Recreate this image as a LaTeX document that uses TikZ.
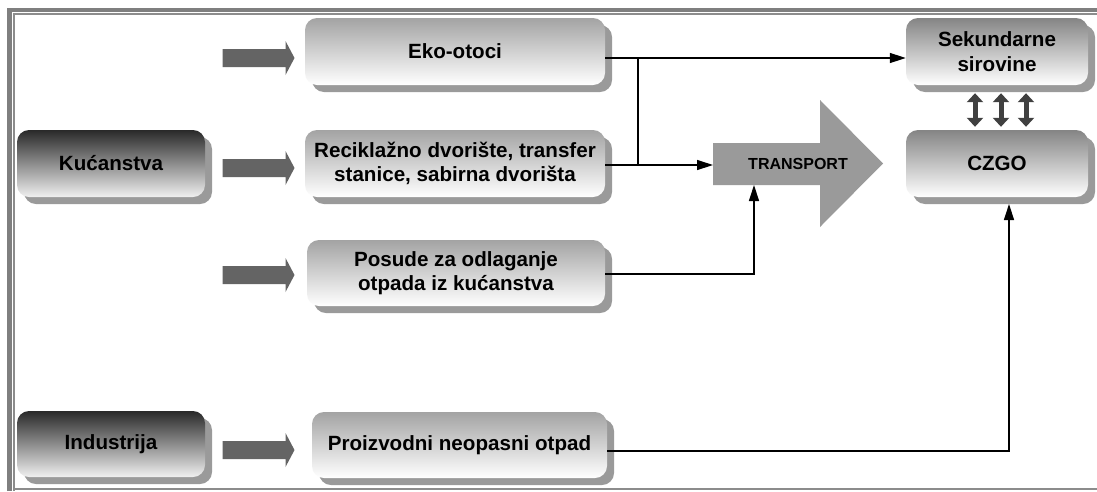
\documentclass[tikz,border=0pt]{standalone}
\usepackage{fontspec}
\setmainfont{Liberation Sans}
\usetikzlibrary{arrows.meta,shadows}
\definecolor{framegray}{HTML}{7F7F7F}
\definecolor{innergray}{HTML}{8C8C8C}
\definecolor{blockgray}{HTML}{646464}
\definecolor{transgray}{HTML}{9A9A9A}
\definecolor{dblgray}{HTML}{404040}
\definecolor{shadowgray}{HTML}{9A9A9A}
\tikzset{
  boxbase/.style={rectangle, rounded corners=12pt, align=center, inner sep=2pt,
    font=\fontsize{20.6}{24.5}\selectfont\bfseries, text=black,
    drop shadow={shadow xshift=7pt, shadow yshift=-7pt, fill=shadowgray, opacity=1}},
  lightbox/.style={boxbase, top color=black!36, bottom color=white},
  midbox/.style={boxbase, top color=black!48, bottom color=white},
  darkbox/.style={boxbase, top color=black!84, bottom color=black!6},
  conn/.style={line width=1.3pt, -{Triangle[length=16pt,width=10pt]}},
  plainline/.style={line width=1.3pt},
  dblarr/.style={line width=5pt, dblgray, {Triangle[length=9pt,width=16pt]}-{Triangle[length=9pt,width=16pt]}},
  garrow/.pic={\fill[blockgray] (-36,-9) -- (27,-9) -- (27,-17) -- (36,0) -- (27,17) -- (27,9) -- (-36,9) -- cycle;},
  trtext/.style={font=\fontsize{16}{19}\selectfont\bfseries, inner sep=0pt}
}
\begin{document}
\begin{tikzpicture}[x=1pt,y=-1pt]
\useasboundingbox (0,0) rectangle (1097,491);
\fill[white] (0,0) rectangle (1097,491);
% frame
\draw[line width=4.5pt, framegray] (9.5,491) -- (9.5,10) -- (1097,10);
\draw[line width=2pt, innergray] (14,491) -- (14,13.8) -- (1097,13.8);
\draw[line width=2pt, innergray] (14,489.3) -- (1097,489.3);
% block arrows
\pic at (258.5,58) {garrow};
\pic at (258.5,168) {garrow};
\pic at (258.5,275) {garrow};
\pic at (258.5,450) {garrow};
% transport arrow
\fill[transgray] (713,143) -- (820,143) -- (820,100) -- (883,163.5) -- (820,227) -- (820,185) -- (713,185) -- cycle;
\node[trtext] (tr) at (798,164) {TRANSPORT};
\coordinate (trin) at (713,165);
\coordinate (trbot) at (754,185);
% boxes
\node[darkbox, minimum width=188pt, minimum height=67pt] (kuc) at (111,163.5) {Kućanstva};
\node[darkbox, minimum width=188pt, minimum height=66pt] (ind) at (111,444) {Industrija};
\node[lightbox, minimum width=300pt, minimum height=67pt] (eko) at (455,51.5) {Eko-otoci};
\node[lightbox, minimum width=300pt, minimum height=67pt] (rec) at (455,163.5) {Reciklažno dvorište, transfer\\stanice, sabirna dvorišta};
\node[lightbox, minimum width=298pt, minimum height=66pt] (pos) at (456,273) {Posude za odlaganje\\otpada iz kućanstva};
\node[lightbox, minimum width=295pt, minimum height=66pt] (pro) at (459.5,445) {Proizvodni neopasni otpad};
\node[midbox, minimum width=182pt, minimum height=67pt] (sek) at (997,51.5) {Sekundarne\\sirovine};
\node[midbox, minimum width=182pt, minimum height=67pt] (cz) at (997,163.5) {CZGO};
\coordinate (j1) at (638,58);
\coordinate (j2) at (638,165);
\coordinate (czin) at (1009,204);
% connectors
\draw[conn] (eko.east |- j1) -- (sek.west |- j1);
\draw[plainline] (j1) -- (j2);
\draw[conn] (rec.east |- trin) -- (trin);
\draw[conn] (pos.east |- 0,274) -| (trbot);
\draw[conn] (pro.east |- 0,451) -| (czin);
% double arrows
\foreach \xx in {975,1001,1026}
  \draw[dblarr, shorten <=8pt, shorten >=3pt] (sek.south -| \xx,0) -- (cz.north -| \xx,0);
\end{tikzpicture}
\end{document}
